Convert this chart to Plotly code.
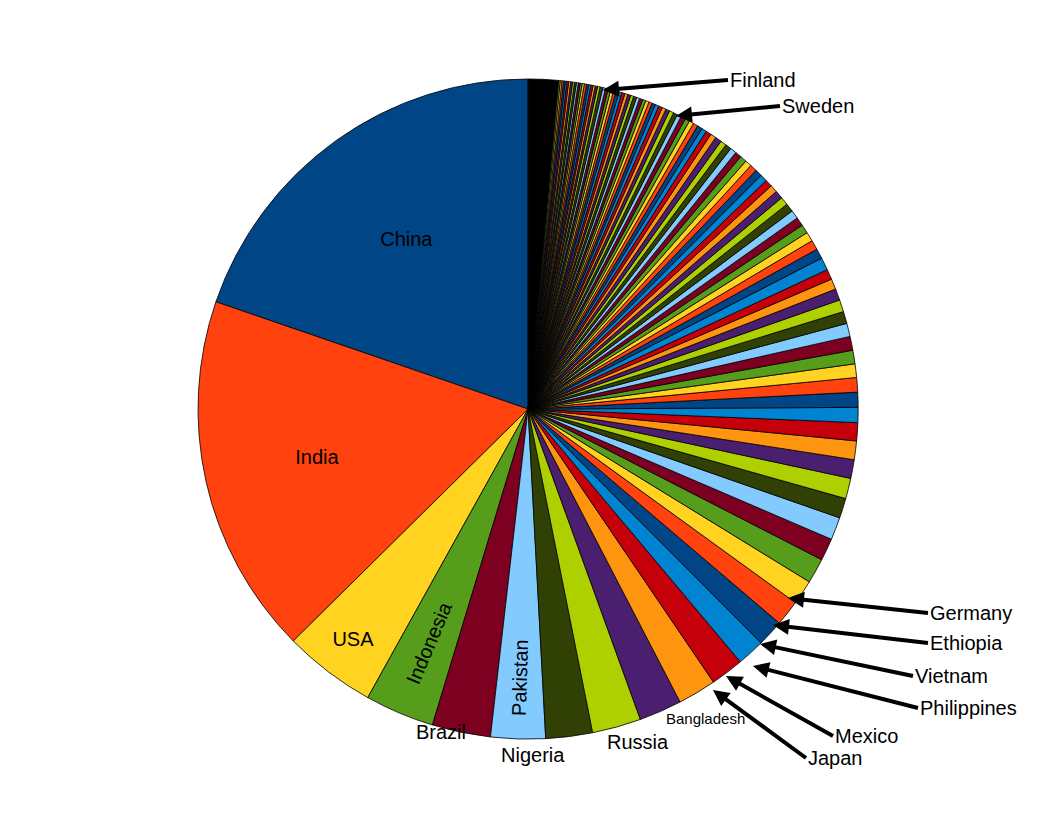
import plotly.graph_objects as go

countries = ["China", "India", "USA", "Indonesia", "Brazil", "Pakistan", "Nigeria", "Bangladesh",
             "Russia", "Japan", "Mexico", "Philippines", "Vietnam", "Ethiopia", "Germany", "Egypt",
             "Iran", "Turkey", "DR Congo", "Thailand", "France", "UK", "Italy", "Myanmar",
             "South Africa", "South Korea", "Spain", "Colombia", "Ukraine", "Tanzania", "Kenya",
             "Argentina", "Poland", "Algeria", "Canada", "Sudan", "Uganda", "Morocco", "Iraq",
             "Nepal", "Peru", "Venezuela", "Afghanistan", "Malaysia", "Uzbekistan", "Saudi Arabia",
             "North Korea", "Ghana", "Yemen", "Taiwan", "Mozambique", "Syria", "Australia",
             "Romania", "Sri Lanka", "Madagascar", "Cote d'Ivoire", "Cameroon", "Angola", "Chile",
             "Netherlands", "Kazakhstan", "Burkina Faso", "Niger", "Malawi", "Guatemala",
             "Ecuador", "Cambodia", "Mali", "Zambia", "Zimbabwe", "Senegal", "Chad", "Greece",
             "Cuba", "Belgium", "Portugal", "Tunisia", "Czech Republic", "Rwanda", "Guinea",
             "Haiti", "Dominican Rep.", "Bolivia", "Hungary", "Burundi", "Belarus", "Benin",
             "Somalia", "Azerbaijan", "Sweden", "Austria", "Honduras", "Switzerland", "Tajikistan",
             "Israel", "Serbia", "Bulgaria", "Hong Kong", "Togo", "Laos", "Paraguay", "Libya",
             "Jordan", "El Salvador", "Papua New Guinea", "Nicaragua", "Sierra Leone", "Kyrgyzstan",
             "Denmark", "Slovakia", "Finland", "Others"]
population = [1338, 1198, 307, 230, 194, 181, 155, 162, 142, 127, 110, 92, 88, 85, 82, 83,
              74, 75, 66, 68, 62, 62, 60, 50, 50, 48, 45, 45, 46, 44, 40, 40, 38, 35, 34,
              42, 33, 32, 31, 29, 29, 28, 28, 27, 27, 25, 24, 24, 23, 23, 22, 22, 21, 21,
              20, 20, 21, 19, 18, 17, 16.5, 15.6, 15.7, 15.3, 15.3, 14.0, 13.6, 14.8, 13.0,
              12.9, 12.5, 12.5, 11.2, 11.2, 11.2, 10.6, 10.7, 10.3, 10.4, 10.0, 10.1, 10.0,
              10.1, 9.9, 9.9, 8.3, 9.6, 8.9, 9.1, 8.8, 9.3, 8.4, 7.5, 7.6, 7.0, 7.2, 7.3,
              7.5, 7.0, 6.6, 6.3, 6.3, 6.3, 6.3, 6.2, 6.7, 5.7, 5.7, 5.5, 5.5, 5.4, 5.3, 100]

inside_labels = ["China", "India", "USA", "Indonesia", "Pakistan"]

palette = ["#004586", "#ff420e", "#ffd320", "#579d1c", "#7e0021", "#83caff",
           "#314004", "#aecf00", "#4b1f6f", "#ff950e", "#c5000b", "#0084d1"]
colors = [palette[i % len(palette)] for i in range(len(countries) - 1)] + ["#000000"]

text = [c if c in inside_labels else "" for c in countries]

# plotly's counterclockwise pie ends the first slice at 12 o'clock; shift so China starts there
china_deg = population[0] / sum(population) * 360

fig = go.Figure(go.Pie(
    labels=countries, values=population, text=text, textinfo="text",
    textposition="inside", textfont=dict(size=20, color="black"),
    insidetextorientation="auto", sort=False, direction="counterclockwise",
    rotation=-china_deg, marker=dict(colors=colors, line=dict(color="black", width=0.8)),
    automargin=False, domain=dict(x=[0, 0.985], y=[0.104, 0.913]),
    hoverinfo="label+value",
))

# plain labels placed just outside the rim
outside = [("Brazil", 433, 737, 20), ("Nigeria", 525, 760, 20),
           ("Russia", 630, 747, 20), ("Bangladesh", 697, 721, 15)]
for name, tx, ty, size in outside:
    fig.add_annotation(x=tx / 1056, y=1 - ty / 816, xref="paper", yref="paper",
                       text=name, showarrow=False, font=dict(size=size, color="black"))

arrows = [("Finland", 760, 72, 595, 82), ("Sweden", 812, 98, 668, 108),
          ("Germany", 960, 605, 780, 590), ("Ethiopia", 960, 635, 765, 617),
          ("Vietnam", 945, 668, 752, 636), ("Philippines", 950, 700, 745, 658),
          ("Mexico", 865, 728, 718, 668), ("Japan", 838, 750, 705, 682)]
for name, tx, ty, px, py in arrows:
    fig.add_annotation(x=px / 1056, y=1 - py / 816, xref="paper", yref="paper",
                       ax=tx - px - 40, ay=ty - py, text=name, showarrow=True,
                       arrowhead=2, arrowsize=0.8, arrowwidth=4, arrowcolor="black",
                       xanchor="left", font=dict(size=20, color="black"))

fig.update_layout(width=1056, height=816, margin=dict(l=0, r=0, t=0, b=0),
                  showlegend=False, paper_bgcolor="white",
                  font=dict(family="Liberation Sans, Arial, sans-serif"))
fig.write_html("out.html")
